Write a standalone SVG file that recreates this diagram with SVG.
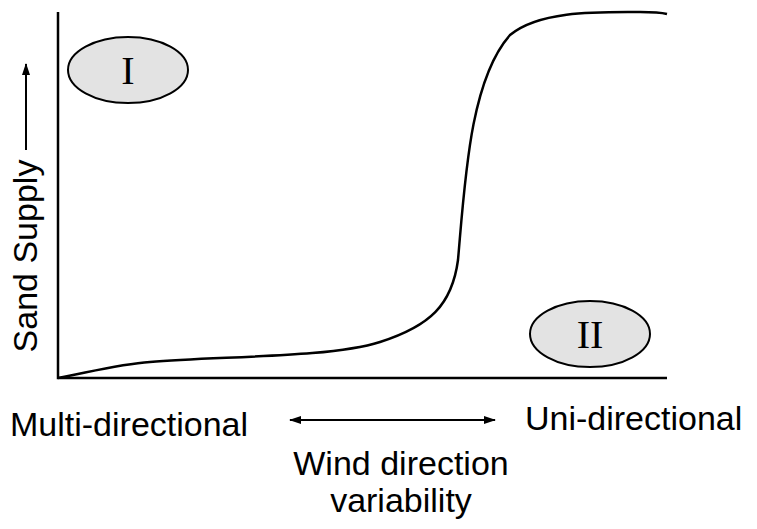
<svg xmlns="http://www.w3.org/2000/svg" width="757" height="529" viewBox="0 0 757 529">
<style>
text{font-family:"Liberation Sans",Arial,sans-serif;fill:#000}
.lbl{font-size:34px}
.ell{fill:#e3e3e3;stroke:#000;stroke-width:2}
.rn{font-family:"Liberation Serif","Times New Roman",serif;font-size:40px}
.ln{fill:none;stroke:#000;stroke-width:2.5}
</style>
<defs>
<marker id="ah" markerWidth="12" markerHeight="10" refX="11" refY="5" orient="auto-start-reverse" markerUnits="userSpaceOnUse">
<path d="M0,1 L12,5 L0,9 Z" fill="#000"/>
</marker>
</defs>
<rect width="757" height="529" fill="#fff"/>
<g id="axes">
<path class="ln" d="M58,12 V378 H667"/>
</g>
<g id="connectors">
<path class="ln" d="M58,378 C90,372 120,364 150,362 C220,356 330,358 380,342 C430,326 452,305 458,260 C465,180 470,80 510,35 C540,10 600,12 640,12 C655,12 663,13 667,14"/>
<line x1="290" y1="420" x2="495" y2="420" stroke="#000" stroke-width="2" marker-start="url(#ah)" marker-end="url(#ah)"/>
<line x1="26" y1="150" x2="26" y2="64" stroke="#000" stroke-width="2" marker-end="url(#ah)"/>
</g>
<g id="node-I">
<ellipse class="ell" cx="128" cy="70" rx="60" ry="33"/>
<text class="rn" x="128" y="84" text-anchor="middle">I</text>
</g>
<g id="node-II">
<ellipse class="ell" cx="590" cy="334" rx="60" ry="33"/>
<text class="rn" x="590" y="348" text-anchor="middle">II</text>
</g>
<g id="labels">
<text class="lbl" transform="translate(37,256) rotate(-90)" text-anchor="middle">Sand Supply</text>
<text class="lbl" x="10" y="436">Multi-directional</text>
<text class="lbl" x="525" y="430">Uni-directional</text>
<text class="lbl" x="401" y="475" text-anchor="middle">Wind direction</text>
<text class="lbl" x="401" y="512" text-anchor="middle">variability</text>
</g>
</svg>
